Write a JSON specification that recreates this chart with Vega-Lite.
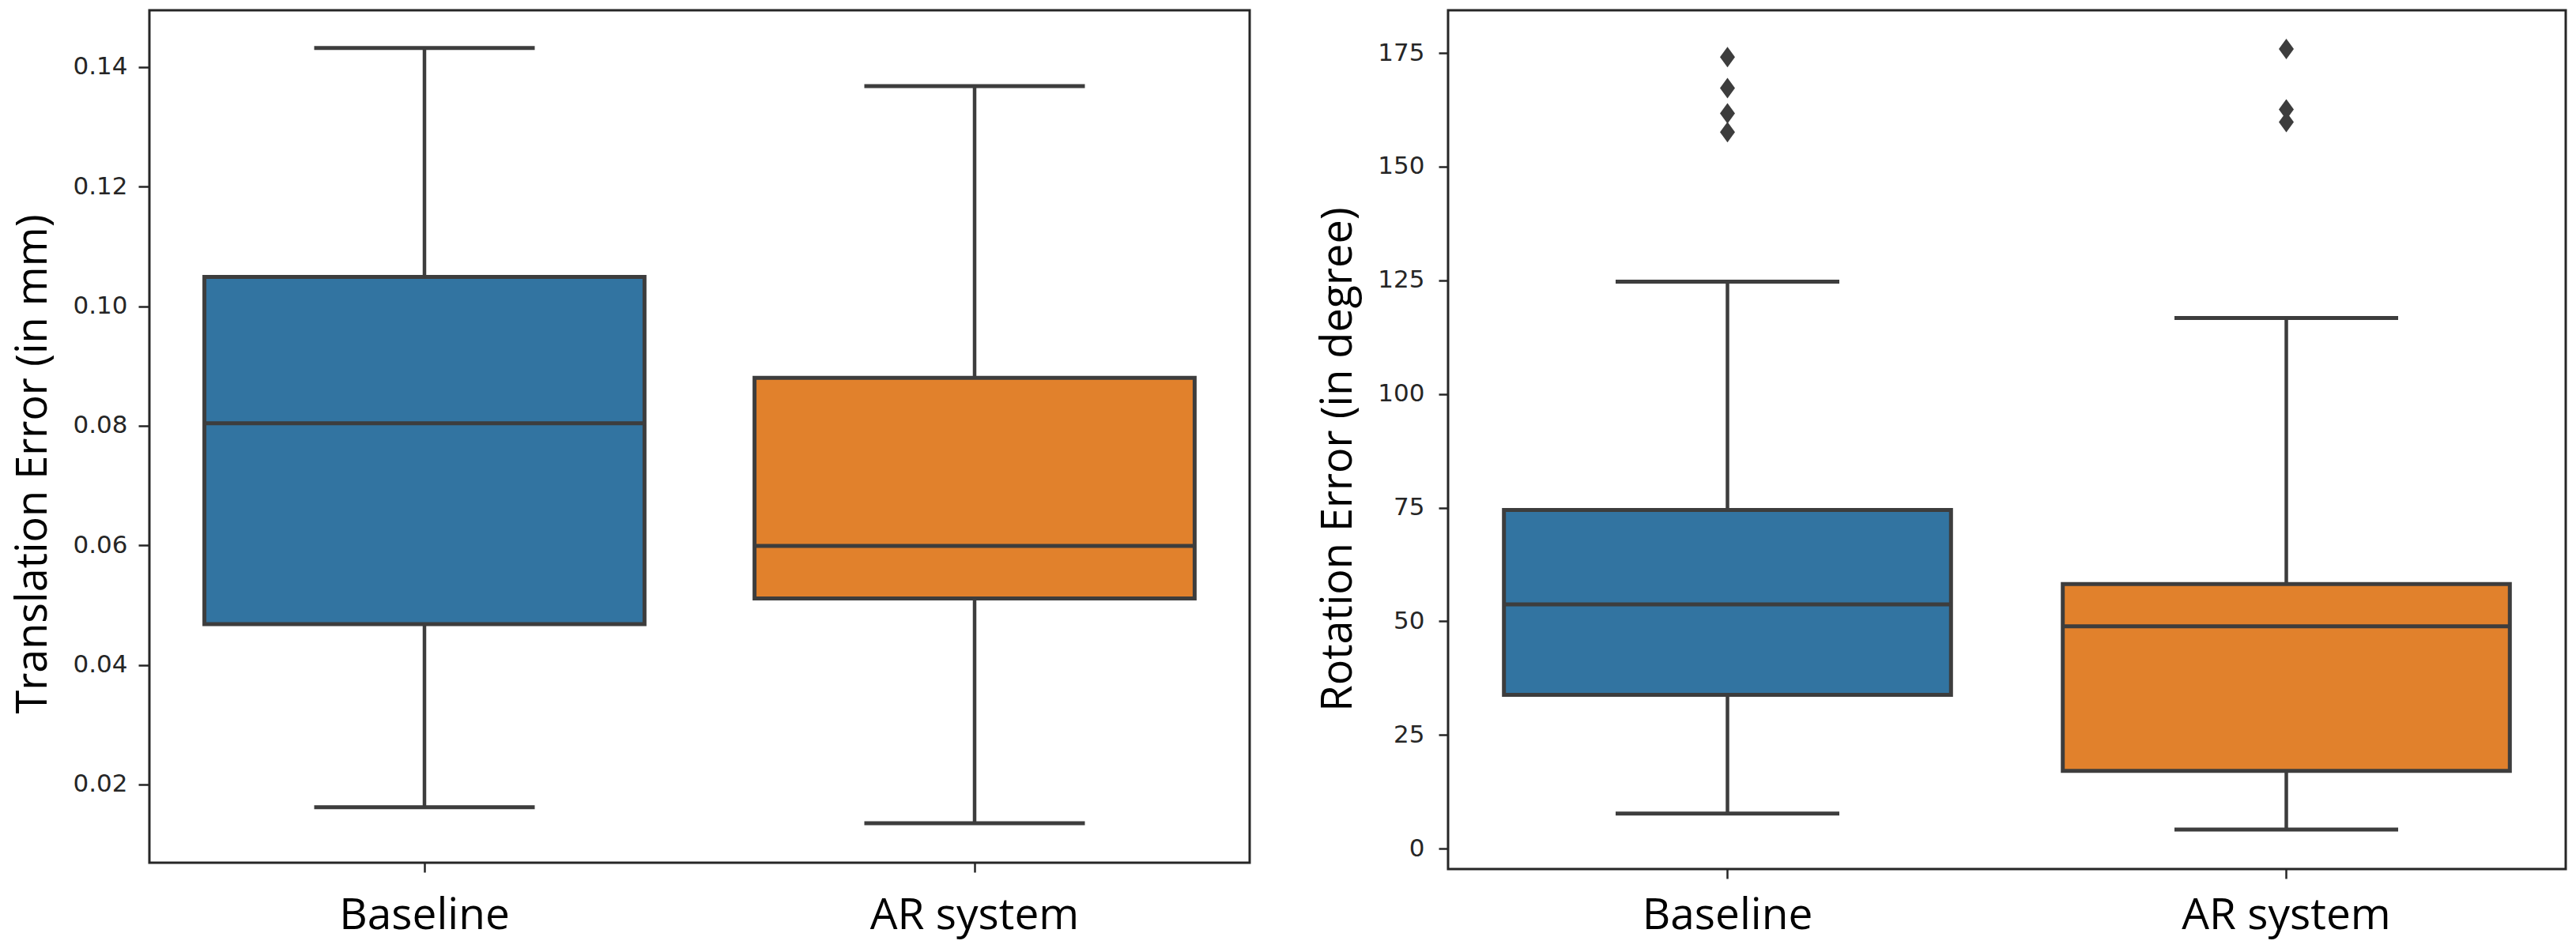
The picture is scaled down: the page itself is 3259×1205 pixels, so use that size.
{
  "$schema": "https://vega.github.io/schema/vega-lite/v6.json",
  "background": "white",
  "padding": {"left": 14, "top": 11, "right": 0, "bottom": 20},
  "spacing": 251,
  "bounds": "flush",
  "datasets": {
    "trans": [
      {"group": "Baseline", "lower": 0.0162, "q1": 0.0468, "median": 0.0804, "q3": 0.1049, "upper": 0.1432},
      {"group": "AR system", "lower": 0.0135, "q1": 0.0511, "median": 0.0599, "q3": 0.0880, "upper": 0.1368}
    ],
    "rot": [
      {"group": "Baseline", "lower": 7.7, "q1": 33.8, "median": 53.7, "q3": 74.5, "upper": 124.7},
      {"group": "AR system", "lower": 4.2, "q1": 17.1, "median": 48.9, "q3": 58.2, "upper": 116.7}
    ],
    "rot_out": [
      {"group": "Baseline", "value": 174.1},
      {"group": "Baseline", "value": 167.3},
      {"group": "Baseline", "value": 161.7},
      {"group": "Baseline", "value": 157.6},
      {"group": "AR system", "value": 175.9},
      {"group": "AR system", "value": 162.6},
      {"group": "AR system", "value": 159.8}
    ]
  },
  "hconcat": [
    {
      "width": 1392,
      "height": 1079,
      "data": {"name": "trans"},
      "encoding": {
        "x": {
          "field": "group", "type": "nominal", "sort": ["Baseline", "AR system"],
          "scale": {"paddingInner": 0, "paddingOuter": 0},
          "axis": {"title": null, "labelAngle": 0, "labelLimit": 0, "labelFont": "Open Sans", "labelFontSize": 55, "labelColor": "#000000", "tickSize": 12, "labelPadding": 28}
        }
      },
      "layer": [
        {
          "mark": {"type": "rule", "stroke": "#3d3d3d", "strokeWidth": 4.5},
          "encoding": {
            "y": {
              "field": "lower", "type": "quantitative",
              "scale": {"domain": [0.0069, 0.1495], "nice": false, "zero": false},
              "axis": {
                "title": "Translation Error (in mm)", "values": [0.02, 0.04, 0.06, 0.08, 0.1, 0.12, 0.14], "format": ".2f",
                "labelFont": "DejaVu Sans", "labelFontSize": 31, "tickSize": 14, "labelPadding": 14,
                "titleFont": "Open Sans", "titleFontSize": 54, "titleFontWeight": "normal", "titleColor": "#000000", "titlePadding": 22, "titleY": 574
              }
            },
            "y2": {"field": "upper"}
          }
        },
        {
          "mark": {"type": "tick", "color": "#3d3d3d", "size": 279, "thickness": 5, "opacity": 1},
          "encoding": {"y": {"field": "lower", "type": "quantitative", "title": "Translation Error (in mm)"}}
        },
        {
          "mark": {"type": "tick", "color": "#3d3d3d", "size": 279, "thickness": 5, "opacity": 1},
          "encoding": {"y": {"field": "upper", "type": "quantitative", "title": "Translation Error (in mm)"}}
        },
        {
          "mark": {"type": "bar", "width": {"band": 0.8}, "stroke": "#3d3d3d", "strokeWidth": 5, "opacity": 1},
          "encoding": {
            "y": {"field": "q1", "type": "quantitative", "title": "Translation Error (in mm)"},
            "y2": {"field": "q3"},
            "color": {"field": "group", "type": "nominal", "scale": {"domain": ["Baseline", "AR system"], "range": ["#3274a1", "#e1812c"]}, "legend": null}
          }
        },
        {
          "mark": {"type": "tick", "color": "#3d3d3d", "size": 557, "thickness": 5, "opacity": 1},
          "encoding": {"y": {"field": "median", "type": "quantitative", "title": "Translation Error (in mm)"}}
        }
      ]
    },
    {
      "width": 1414,
      "height": 1087,
      "encoding": {
        "x": {
          "field": "group", "type": "nominal", "sort": ["Baseline", "AR system"],
          "scale": {"paddingInner": 0, "paddingOuter": 0},
          "axis": {"title": null, "labelAngle": 0, "labelLimit": 0, "labelFont": "Open Sans", "labelFontSize": 55, "labelColor": "#000000", "tickSize": 12, "labelPadding": 20}
        }
      },
      "layer": [
        {
          "data": {"name": "rot"},
          "mark": {"type": "rule", "stroke": "#3d3d3d", "strokeWidth": 4.5},
          "encoding": {
            "y": {
              "field": "lower", "type": "quantitative",
              "scale": {"domain": [-4.5, 184.4], "nice": false, "zero": false},
              "axis": {
                "title": "Rotation Error (in degree)", "values": [0, 25, 50, 75, 100, 125, 150, 175],
                "labelFont": "DejaVu Sans", "labelFontSize": 31, "tickSize": 12, "labelPadding": 18,
                "titleFont": "Open Sans", "titleFontSize": 54, "titleFontWeight": "normal", "titleColor": "#000000", "titlePadding": 22, "titleY": 568
              }
            },
            "y2": {"field": "upper"}
          }
        },
        {
          "data": {"name": "rot"},
          "mark": {"type": "tick", "color": "#3d3d3d", "size": 283, "thickness": 5, "opacity": 1},
          "encoding": {"y": {"field": "lower", "type": "quantitative", "title": "Rotation Error (in degree)"}}
        },
        {
          "data": {"name": "rot"},
          "mark": {"type": "tick", "color": "#3d3d3d", "size": 283, "thickness": 5, "opacity": 1},
          "encoding": {"y": {"field": "upper", "type": "quantitative", "title": "Rotation Error (in degree)"}}
        },
        {
          "data": {"name": "rot"},
          "mark": {"type": "bar", "width": {"band": 0.8}, "stroke": "#3d3d3d", "strokeWidth": 5, "opacity": 1},
          "encoding": {
            "y": {"field": "q1", "type": "quantitative", "title": "Rotation Error (in degree)"},
            "y2": {"field": "q3"},
            "color": {"field": "group", "type": "nominal", "scale": {"domain": ["Baseline", "AR system"], "range": ["#3274a1", "#e1812c"]}, "legend": null}
          }
        },
        {
          "data": {"name": "rot"},
          "mark": {"type": "tick", "color": "#3d3d3d", "size": 566, "thickness": 5, "opacity": 1},
          "encoding": {"y": {"field": "median", "type": "quantitative", "title": "Rotation Error (in degree)"}}
        },
        {
          "data": {"name": "rot_out"},
          "mark": {"type": "point", "shape": "M0,-1.3L0.95,0L0,1.3L-0.95,0Z", "filled": true, "color": "#3d3d3d", "size": 400, "opacity": 1},
          "encoding": {"y": {"field": "value", "type": "quantitative", "title": "Rotation Error (in degree)"}}
        }
      ]
    }
  ],
  "config": {
    "view": {"stroke": "#262626", "strokeWidth": 3},
    "axis": {"domain": false, "grid": false, "tickColor": "#262626", "tickWidth": 2.5, "labelColor": "#262626"}
  }
}
